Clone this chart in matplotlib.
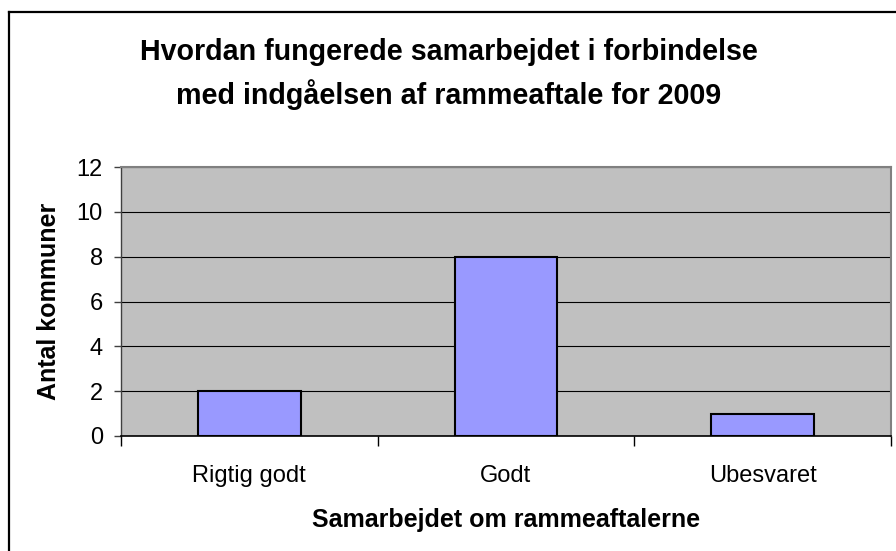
import matplotlib
matplotlib.use('Agg')
import matplotlib.pyplot as plt
from matplotlib.lines import Line2D

# === DATA ===
categories = ["Rigtig godt", "Godt", "Ubesvaret"]
counts = [2, 8, 1]
y_ticks = [0, 2, 4, 6, 8, 10, 12]

plt.rcParams['font.family'] = ['Liberation Sans', 'DejaVu Sans']

W, H = 896, 551
fig = plt.figure(figsize=(W / 100, H / 100), dpi=100)
fig.patch.set_facecolor('white')

# plot area in pixel coords
left, right, top, bottom = 121, 891, 167, 436
ax = fig.add_axes([left / W, 1 - bottom / H, (right - left) / W, (bottom - top) / H])
ax.set_facecolor('#C0C0C0')

x = list(range(len(categories)))
ax.bar(x, counts, width=0.4, color='#9999FF', edgecolor='black', linewidth=1.5, zorder=3)

ax.set_xlim(-0.5, len(categories) - 0.5)
ax.set_ylim(0, 12)
ax.set_yticks(y_ticks)
ax.set_yticklabels([str(v) for v in y_ticks], fontsize=17)
ax.yaxis.grid(True, color='black', linewidth=0.8, zorder=1)
ax.set_axisbelow(True)

# category boundaries as major ticks, labels on minor ticks
ax.set_xticks([i - 0.5 for i in range(len(categories) + 1)])
ax.set_xticklabels([])
ax.set_xticks(x, minor=True)
ax.set_xticklabels(categories, minor=True, fontsize=17)
ax.tick_params(axis='x', which='major', length=7, width=1, color='black')
ax.tick_params(axis='x', which='minor', length=0, pad=21)
ax.tick_params(axis='y', length=5, width=1, pad=8, color='#404040')

for s in ['top', 'right']:
    ax.spines[s].set_color('#808080')
    ax.spines[s].set_linewidth(1.5)
ax.spines['left'].set_color('#404040')
ax.spines['left'].set_linewidth(1)
ax.spines['bottom'].set_color('black')
ax.spines['bottom'].set_linewidth(1.2)

ax.set_ylabel("Antal kommuner", fontsize=18, fontweight='bold', labelpad=11)
ax.set_xlabel("Samarbejdet om rammeaftalerne", fontsize=18, fontweight='bold', labelpad=15)

fig.text(449 / W, 1 - 74 / H,
         "Hvordan fungerede samarbejdet i forbindelse\nmed indgåelsen af rammeaftale for 2009",
         ha='center', va='center', fontsize=20.6, fontweight='bold', linespacing=1.5)

# outer chart border (right and bottom fall outside the image)
fig.add_artist(Line2D([9 / W, 9 / W], [0, 1 - 12 / H], color='black', linewidth=1.6))
fig.add_artist(Line2D([9 / W, 1], [1 - 12 / H, 1 - 12 / H], color='black', linewidth=1.6))

fig.savefig('out.png', dpi=100)
